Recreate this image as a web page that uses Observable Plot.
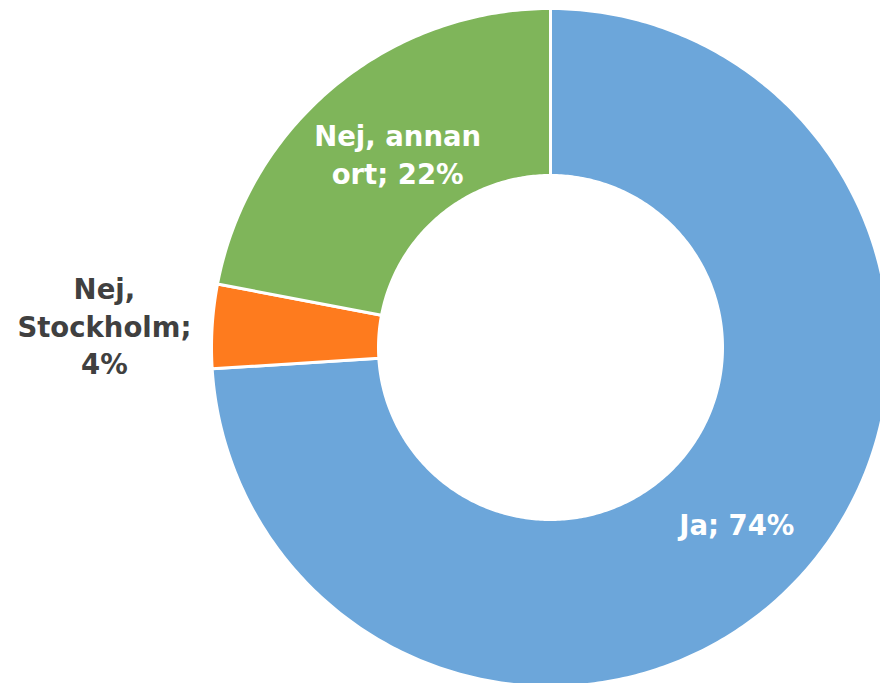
<!DOCTYPE html>
<html>
<head>
<meta charset="utf-8">
<script src="https://cdn.jsdelivr.net/npm/d3@7"></script>
<script src="https://cdn.jsdelivr.net/npm/@observablehq/plot@0.6"></script>
<style>
  html, body { margin: 0; padding: 0; background: #fff; }
  #chart { width: 880px; height: 683px; }
</style>
</head>
<body>
<div id="chart"></div>
<script>
const categories = ["Ja", "Nej, Stockholm", "Nej, annan ort"];
const values = [74, 4, 22];
const labels = ["Ja; 74%", "Nej,\nStockholm;\n4%", "Nej, annan\nort; 22%"];
const colors = ["#6CA6DA", "#FE7B1E", "#7FB55A"];
const labelColors = ["#ffffff", "#404040", "#ffffff"];
const labelOutside = [false, true, false];

const outerR = 339, innerR = 172, outsideR = 448;

const pie = d3.pie().sort(null).value(d => d.value);
const arcs = pie(categories.map((c, i) => ({category: c, value: values[i], i})));

// sample each ring slice as a closed polygon
const poly = [];
for (const a of arcs) {
  const n = Math.max(8, Math.ceil((a.endAngle - a.startAngle) * 80));
  for (let k = 0; k <= n; k++) {
    const t = a.startAngle + (a.endAngle - a.startAngle) * k / n;
    poly.push({category: a.data.category, x: outerR * Math.sin(t), y: outerR * Math.cos(t)});
  }
  for (let k = n; k >= 0; k--) {
    const t = a.startAngle + (a.endAngle - a.startAngle) * k / n;
    poly.push({category: a.data.category, x: innerR * Math.sin(t), y: innerR * Math.cos(t)});
  }
}

const nudgeX = [0, 1, 10], nudgeY = [0, -5, -2];
const labelData = arcs.map(a => {
  const mid = (a.startAngle + a.endAngle) / 2;
  const i = a.data.i;
  const r = labelOutside[i] ? outsideR : (outerR + innerR) / 2;
  return {text: labels[i], x: r * Math.sin(mid) + nudgeX[i], y: r * Math.cos(mid) + nudgeY[i], color: labelColors[i]};
});

const chart = Plot.plot({
  width: 880,
  height: 683,
  margin: 0,
  x: {domain: [-550, 330], axis: null},
  y: {domain: [-336, 347], axis: null},
  color: {domain: categories, range: colors},
  style: {background: "#fff"},
  marks: [
    Plot.line(poly, {x: "x", y: "y", z: "category", fill: "category", stroke: "#fff", strokeWidth: 3, curve: "linear-closed"}),
    Plot.text(labelData, {
      x: "x", y: "y", text: "text", fill: d => d.color,
      fontSize: 27.5, fontWeight: "bold", fontFamily: "DejaVu Sans",
      lineHeight: 1.38, lineAnchor: "middle", textAnchor: "middle"
    })
  ]
});
document.getElementById("chart").appendChild(chart);
</script>
</body>
</html>
